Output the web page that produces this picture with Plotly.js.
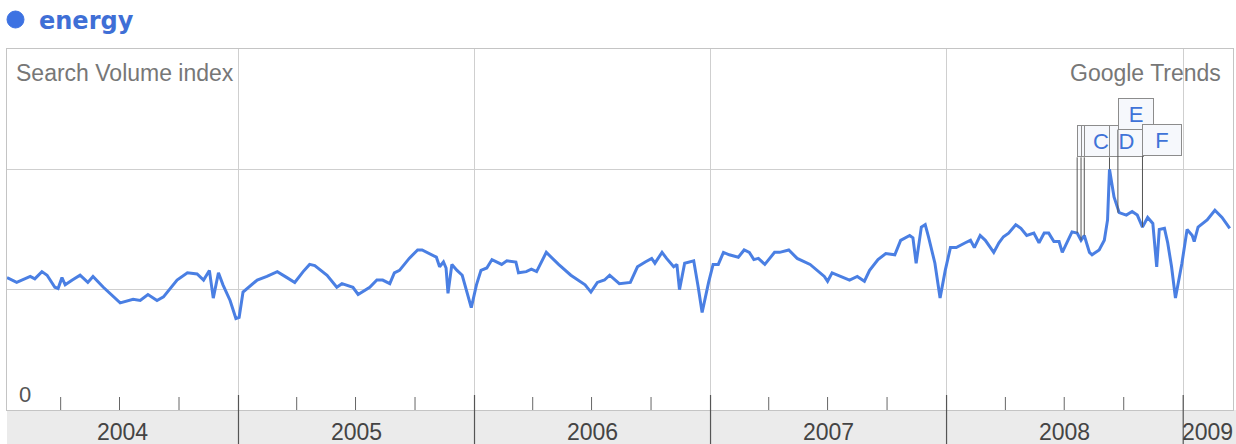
<!DOCTYPE html>
<html>
<head>
<meta charset="utf-8">
<script src="https://cdn.plot.ly/plotly-3.0.1.min.js"></script>
<style>
html,body{margin:0;padding:0;background:#fff;}
#chart{width:1236px;height:444px;}
</style>
</head>
<body>
<div id="chart"></div>
<script>
// ---------- DATA ----------
const seriesName = 'energy';

const dates = [
'2004-01-09','2004-01-24','2004-02-14','2004-02-21','2004-03-03','2004-03-11','2004-03-23','2004-03-28',
'2004-04-03','2004-04-08','2004-04-19','2004-05-01','2004-05-13','2004-05-21','2004-06-06','2004-07-02',
'2004-07-22','2004-08-02','2004-08-14','2004-08-28','2004-09-07','2004-09-28','2004-10-14','2004-10-29',
'2004-11-08','2004-11-17','2004-11-23','2004-12-01','2004-12-08','2004-12-19','2004-12-28',
'2005-01-02','2005-01-08','2005-01-30','2005-02-14','2005-03-02','2005-03-17','2005-03-29','2005-04-11',
'2005-04-21','2005-04-29','2005-05-18','2005-06-02','2005-06-10','2005-06-27','2005-07-05','2005-07-23',
'2005-08-03','2005-08-12','2005-08-23','2005-08-30','2005-09-07','2005-09-22','2005-10-05','2005-10-12',
'2005-10-20','2005-10-28','2005-11-03','2005-11-08','2005-11-14','2005-11-18','2005-11-21','2005-11-27',
'2005-12-05','2005-12-13','2005-12-19','2005-12-27',
'2006-01-04','2006-01-11','2006-01-20','2006-01-28','2006-02-12','2006-02-20','2006-03-06','2006-03-10',
'2006-03-22','2006-03-30','2006-04-07','2006-04-22','2006-05-11','2006-05-30','2006-06-21','2006-06-30',
'2006-07-10','2006-07-21','2006-07-29','2006-08-13','2006-08-30','2006-09-10','2006-09-22','2006-10-02',
'2006-10-07','2006-10-18','2006-10-25','2006-11-05','2006-11-10','2006-11-14','2006-11-22','2006-12-06',
'2006-12-13','2006-12-19','2006-12-29',
'2007-01-05','2007-01-13','2007-01-21','2007-01-30','2007-02-13','2007-02-22','2007-03-02','2007-03-09',
'2007-03-16','2007-03-26','2007-04-10','2007-04-18','2007-05-02','2007-05-15','2007-06-04','2007-06-26',
'2007-07-01','2007-07-08','2007-07-21','2007-08-04','2007-08-16','2007-08-27','2007-09-04','2007-09-17',
'2007-09-29','2007-10-13','2007-10-22','2007-11-05','2007-11-10','2007-11-15','2007-11-23','2007-11-29',
'2007-12-04','2007-12-14','2007-12-22','2007-12-30',
'2008-01-07','2008-01-16','2008-01-30','2008-02-07','2008-02-13','2008-02-22','2008-03-01','2008-03-14',
'2008-03-22','2008-03-29','2008-04-06','2008-04-17','2008-04-25','2008-05-04','2008-05-15','2008-05-23',
'2008-05-31','2008-06-07','2008-06-15','2008-06-23','2008-06-28','2008-07-05','2008-07-13','2008-07-21',
'2008-07-27','2008-08-01','2008-08-09','2008-08-13','2008-08-24','2008-09-01','2008-09-06','2008-09-09',
'2008-09-16','2008-09-24','2008-10-05','2008-10-14','2008-10-22','2008-10-30','2008-11-07','2008-11-15',
'2008-11-21','2008-11-25','2008-12-03','2008-12-08','2008-12-14','2008-12-20','2008-12-30',
'2009-01-07','2009-01-15','2009-01-18','2009-01-24','2009-02-07','2009-02-19','2009-03-02','2009-03-14'
];

const values = [
1.10,1.06,1.11,1.09,1.15,1.12,1.02,1.01,
1.10,1.04,1.08,1.12,1.06,1.11,1.02,0.89,
0.92,0.91,0.96,0.91,0.94,1.08,1.14,1.13,
1.08,1.16,0.93,1.14,1.04,0.91,0.76,
0.77,0.98,1.08,1.11,1.15,1.10,1.06,1.15,
1.21,1.20,1.12,1.02,1.05,1.02,0.96,1.02,
1.08,1.08,1.05,1.14,1.16,1.26,1.33,1.33,
1.31,1.29,1.27,1.19,1.23,1.18,0.97,1.21,
1.16,1.12,1.01,0.85,
1.04,1.16,1.18,1.25,1.21,1.24,1.23,1.14,
1.15,1.17,1.15,1.31,1.21,1.12,1.04,0.98,
1.06,1.08,1.12,1.05,1.06,1.19,1.23,1.26,
1.22,1.31,1.26,1.19,1.21,1.00,1.22,1.24,
1.02,0.81,1.06,
1.21,1.21,1.31,1.29,1.27,1.33,1.31,1.25,
1.26,1.21,1.31,1.31,1.33,1.26,1.21,1.11,
1.07,1.14,1.11,1.08,1.11,1.07,1.16,1.25,
1.30,1.29,1.41,1.45,1.43,1.22,1.52,1.54,
1.44,1.22,0.93,1.16,
1.35,1.35,1.39,1.41,1.35,1.45,1.41,1.31,
1.39,1.44,1.47,1.54,1.51,1.45,1.47,1.39,
1.47,1.47,1.40,1.40,1.31,1.39,1.48,1.47,
1.41,1.45,1.31,1.29,1.33,1.41,1.58,2.00,
1.77,1.64,1.62,1.65,1.62,1.52,1.60,1.55,
1.19,1.50,1.51,1.39,1.19,0.93,1.22,
1.50,1.45,1.40,1.52,1.58,1.66,1.60,1.51
];

const years = [2004, 2005, 2006, 2007, 2008, 2009];
const quarterMonths = ['04', '07', '10'];

const markerLetters = ['A', 'B', 'C', 'D', 'E', 'F'];
const markerDates = ['2008-07-21', '2008-07-27', '2008-08-01', '2008-09-09', '2008-09-22', '2008-10-30'];
const markerValues = [1.47, 1.41, 1.45, 2.00, 1.64, 1.52];

// ---------- STYLE / LAYOUT SETTINGS ----------
const xRange = ['2004-01-09', '2009-03-19'];
const flagLevels = [2.10, 2.10, 2.10, 2.10, 2.33, 2.11];   // box bottoms (axis units)
const flagWidths = [30, 30, 30, 31, 32, 36];
const lineColor = '#4a7fe3';
const textFont = 'Liberation Sans, Arial, Helvetica, sans-serif';

const W = 1236, H = 444;
const M = {l: 7, r: 3, t: 49, b: 34};
const PW = W - M.l - M.r, PH = H - M.t - M.b;
const px = x => (x - M.l) / PW;           // page px -> paper x
const py = y => (H - M.b - y) / PH;       // page px -> paper y

// ---------- BUILD ----------
const trace = {
  type: 'scatter', mode: 'lines', name: seriesName,
  x: dates, y: values,
  line: {color: lineColor, width: 3, shape: 'linear'},
  hoverinfo: 'x+y'
};

const shapes = [];
// lower gray band
shapes.push({type: 'rect', xref: 'paper', yref: 'paper', x0: 0, x1: px(1240), y0: py(446), y1: 0,
  fillcolor: '#ebebeb', line: {width: 0}, layer: 'below'});
// year separators through the band + quarter ticks
years.forEach(yr => {
  const d = yr + '-01-01';
  if (d > xRange[0] && d < xRange[1]) {
    shapes.push({type: 'line', xref: 'x', yref: 'paper', x0: d, x1: d, y0: py(446), y1: py(395),
      line: {color: '#555', width: 1.2}});
  }
  quarterMonths.forEach(m => {
    const q = yr + '-' + m + '-01';
    if (q > xRange[0] && q < xRange[1]) {
      shapes.push({type: 'line', xref: 'x', yref: 'paper', x0: q, x1: q, y0: 0, y1: py(397),
        line: {color: '#666', width: 1}});
    }
  });
});
// legend dot
shapes.push({type: 'circle', xref: 'paper', yref: 'paper', x0: px(7), x1: px(24), y0: py(28), y1: py(11),
  fillcolor: '#3d72e2', line: {color: '#3d72e2', width: 1}});

const annotations = [];
annotations.push({xref: 'paper', yref: 'paper', x: px(37), y: py(21), xanchor: 'left', yanchor: 'middle',
  text: seriesName, showarrow: false,
  font: {family: 'DejaVu Sans, Verdana, sans-serif', size: 24, color: '#3f6fd6', weight: 'bold'}});
annotations.push({xref: 'paper', yref: 'paper', x: px(14), y: py(73), xanchor: 'left', yanchor: 'middle',
  text: 'Search Volume index', showarrow: false, font: {family: textFont, size: 23, color: '#777'}});
annotations.push({xref: 'paper', yref: 'paper', x: px(1223), y: py(73), xanchor: 'right', yanchor: 'middle',
  text: 'Google Trends', showarrow: false, font: {family: textFont, size: 23, color: '#777'}});
annotations.push({xref: 'paper', yref: 'y', x: px(17), y: 0, xanchor: 'left', yanchor: 'bottom', yshift: 1,
  text: '0', showarrow: false, font: {family: textFont, size: 22, color: '#555'}});

// year labels centred in the visible part of each year
const r0 = new Date(xRange[0] + 'T00:00:00Z').getTime();
const r1 = new Date(xRange[1] + 'T00:00:00Z').getTime();
years.forEach(yr => {
  const s = Math.max(Date.UTC(yr, 0, 1), r0);
  const e = Math.min(Date.UTC(yr + 1, 0, 1), r1);
  if (e <= s) return;
  const mid = new Date((s + e) / 2).toISOString().slice(0, 10);
  annotations.push({xref: 'x', yref: 'paper', x: mid, y: py(432), xanchor: 'center', yanchor: 'middle',
    text: String(yr), showarrow: false, font: {family: textFont, size: 23, color: '#444'}});
});

// news flags
markerLetters.forEach((L, i) => {
  annotations.push({
    xref: 'x', yref: 'y', axref: 'x', ayref: 'y',
    x: markerDates[i], y: markerValues[i], ax: markerDates[i], ay: flagLevels[i],
    text: L, showarrow: true, arrowhead: 0, arrowwidth: 1, arrowcolor: '#555', standoff: 0,
    xanchor: 'left', yanchor: 'bottom',
    width: flagWidths[i], height: 28, borderpad: 1,
    bgcolor: '#f6f8fc', bordercolor: '#8c8c8c', borderwidth: 1,
    font: {family: textFont, size: 22, color: '#3f73d8'}
  });
});

const layout = {
  width: W, height: H,
  margin: {l: M.l, r: M.r, t: M.t, b: M.b, pad: 0},
  paper_bgcolor: '#ffffff', plot_bgcolor: '#ffffff',
  showlegend: false,
  xaxis: {
    type: 'date', range: xRange,
    tickvals: years.map(y => y + '-01-01'),
    showticklabels: false, ticks: '',
    showgrid: true, gridcolor: '#cfcfcf', gridwidth: 1,
    showline: true, linecolor: '#c4c4c4', linewidth: 1, mirror: true,
    zeroline: false, fixedrange: true
  },
  yaxis: {
    range: [0, 3], tickvals: [1, 2], showticklabels: false, ticks: '',
    showgrid: true, gridcolor: '#cfcfcf', gridwidth: 1,
    showline: true, linecolor: '#c4c4c4', linewidth: 1, mirror: true,
    zeroline: false, fixedrange: true
  },
  shapes: shapes,
  annotations: annotations,
  font: {family: textFont}
};

Plotly.newPlot('chart', [trace], layout, {displayModeBar: false, staticPlot: true});
</script>
</body>
</html>
